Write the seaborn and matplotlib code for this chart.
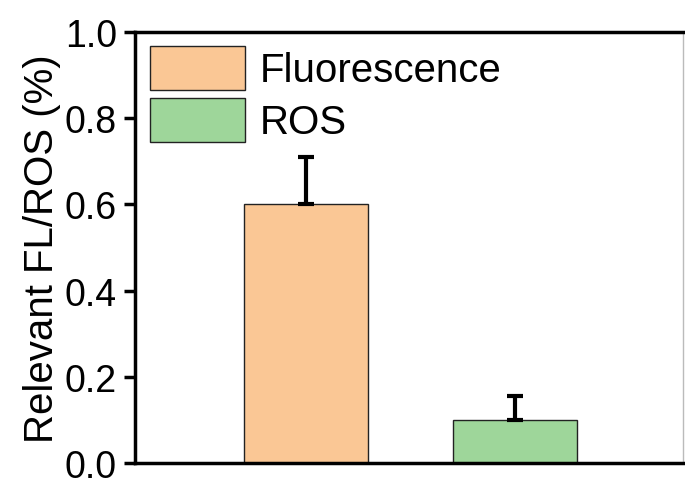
import matplotlib
matplotlib.use("Agg")
import matplotlib.pyplot as plt
import seaborn as sns
import pandas as pd

categories = ["Fluorescence", "ROS"]
values = [0.60, 0.10]
errors = [0.11, 0.055]
colors = ["#FAC795", "#9ED69A"]

sns.set_theme(style="white")
plt.rcParams["font.family"] = ["Liberation Sans", "DejaVu Sans"]
plt.rcParams["text.color"] = "black"
plt.rcParams["axes.labelcolor"] = "black"
plt.rcParams["ytick.color"] = "black"
plt.rcParams["ytick.labelcolor"] = "black"

df = pd.DataFrame({"cat": categories, "val": values})

fig = plt.figure(figsize=(6.85, 4.81), dpi=100)
ax = fig.add_axes([135 / 685, 1 - 464 / 481, 548 / 685, 431 / 481])

sns.barplot(data=df, x="cat", y="val", hue="cat", palette=colors,
            width=0.593, edgecolor="#222222", linewidth=1.0,
            errorbar=None, legend=True, ax=ax, saturation=1)

ax.errorbar(range(len(values)), values, yerr=[[0] * len(errors), errors],
            fmt="none", ecolor="black", elinewidth=3, capsize=6, capthick=3,
            zorder=1)

ax.set_xlim(-0.818, 1.804)
ax.set_ylim(0, 1.0)
ax.set_yticks([0.0, 0.2, 0.4, 0.6, 0.8, 1.0])
ax.set_yticklabels(["0.0", "0.2", "0.4", "0.6", "0.8", "1.0"])
ax.set_xticks([])
ax.set_xlabel("")
ax.set_ylabel("Relevant FL/ROS (%)", fontsize=29, labelpad=3, color="black")
ax.tick_params(axis="y", direction="out", length=8, width=2.5, labelsize=27,
               left=True, pad=5, color="black", labelcolor="black")

for side in ["left", "bottom", "top"]:
    ax.spines[side].set_linewidth(2.5)
    ax.spines[side].set_color("black")
ax.spines["right"].set_linewidth(1)
ax.spines["right"].set_color("#bbbbbb")

leg = ax.legend(loc="upper left", bbox_to_anchor=(0.027, 0.968), frameon=False,
                fontsize=29, handlelength=2.36, handleheight=1.3,
                handletextpad=0.37, labelspacing=0.2, borderpad=0,
                borderaxespad=0)
for h in leg.legend_handles:
    h.set_edgecolor("#222222")
    h.set_linewidth(1.0)
for t in leg.get_texts():
    t.set_color("black")

fig.savefig("out.png", dpi=100)
